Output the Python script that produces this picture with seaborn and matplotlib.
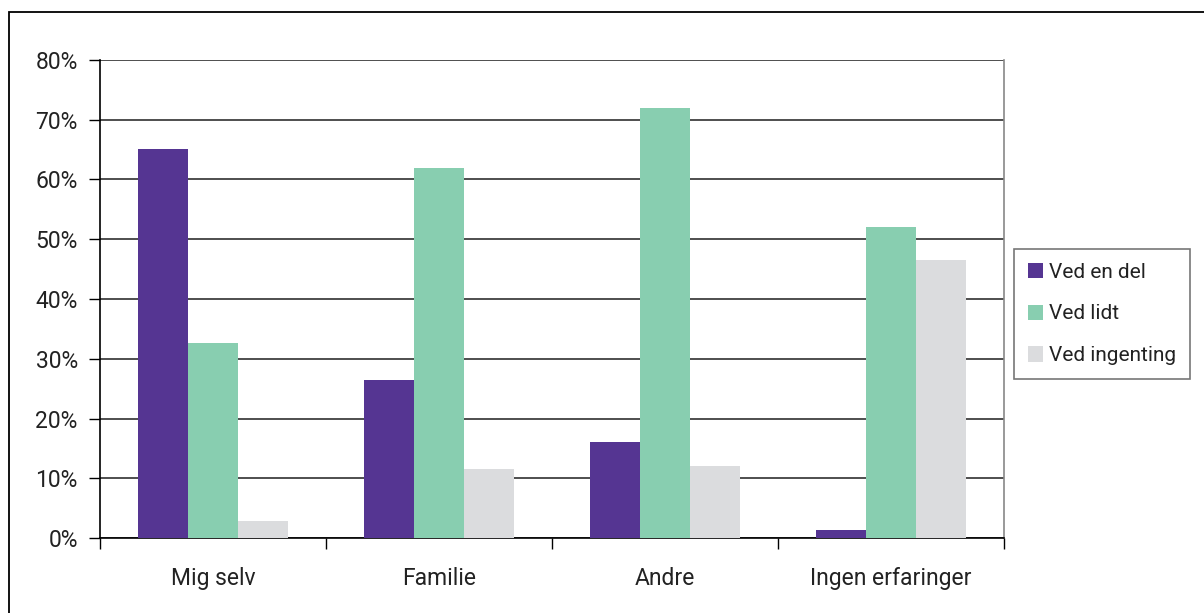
import matplotlib
matplotlib.use('Agg')
import matplotlib.pyplot as plt
from matplotlib.patches import Rectangle
from matplotlib.ticker import FuncFormatter, FixedLocator
import seaborn as sns
import pandas as pd

categories = ['Mig selv', 'Familie', 'Andre', 'Ingen erfaringer']
series = ['Ved en del', 'Ved lidt', 'Ved ingenting']
ved_en_del = [65.1, 26.4, 16.0, 1.4]
ved_lidt = [32.7, 62.0, 72.0, 52.0]
ved_ingenting = [2.8, 11.6, 12.0, 46.6]
colors = ['#553592', '#88CEB0', '#DBDCDE']

df = pd.DataFrame({
    'kategori': categories * 3,
    'serie': [s for s in series for _ in categories],
    'andel': ved_en_del + ved_lidt + ved_ingenting,
})

sns.set_style('white')
plt.rcParams['font.family'] = ['Roboto', 'DejaVu Sans']

fig = plt.figure(figsize=(12.04, 6.13), dpi=100)
ax = fig.add_axes([100 / 1204, 75 / 613, 904 / 1204, 478 / 613])

sns.barplot(data=df, x='kategori', y='andel', hue='serie', order=categories,
            hue_order=series, palette=colors, width=0.66, gap=0,
            saturation=1, linewidth=0, ax=ax, zorder=3)

ax.set_xlim(-0.5, 3.5)
ax.set_ylim(0, 80)
ax.set_yticks(range(0, 81, 10))
ax.yaxis.set_major_formatter(FuncFormatter(lambda v, p: f'{v:.0f}%'))
ax.grid(axis='y', color='#404040', linewidth=1.3, zorder=1)
ax.set_axisbelow(True)

ax.set_xlabel('')
ax.set_ylabel('')
ax.tick_params(axis='y', length=8, width=1, color='black', labelsize=16.5,
               labelcolor='#222222', left=True, pad=8)
ax.xaxis.set_major_locator(FixedLocator(range(4)))
ax.set_xticklabels(categories)
ax.tick_params(axis='x', length=0, labelsize=16.5, labelcolor='#222222', pad=21)
# ticks at the category boundaries
ax.xaxis.set_minor_locator(FixedLocator([-0.5, 0.5, 1.5, 2.5, 3.5]))
ax.tick_params(axis='x', which='minor', length=8, width=1, color='black', bottom=True)

for side in ['left', 'bottom']:
    ax.spines[side].set_color('black')
    ax.spines[side].set_linewidth(1.2)
ax.spines['right'].set_color('#888888')
ax.spines['right'].set_linewidth(1.2)
ax.spines['top'].set_visible(False)

leg = ax.legend(loc='upper left', bbox_to_anchor=(1014 / 1204, 364 / 613),
                bbox_transform=fig.transFigure, frameon=True, fancybox=False,
                fontsize=15, handlelength=0.75, handleheight=0.75,
                handletextpad=0.3, labelspacing=1.1, borderpad=0.65,
                borderaxespad=0)
leg.get_frame().set_edgecolor('#555555')
leg.get_frame().set_linewidth(1.2)
for t in leg.get_texts():
    t.set_color('#222222')

fig.patches.append(Rectangle((8.5 / 1204, -0.1), 1.2, (613 - 11.5) / 613 + 0.1,
                             transform=fig.transFigure, fill=False,
                             edgecolor='black', linewidth=1.3))

fig.savefig('out.png', dpi=100)
